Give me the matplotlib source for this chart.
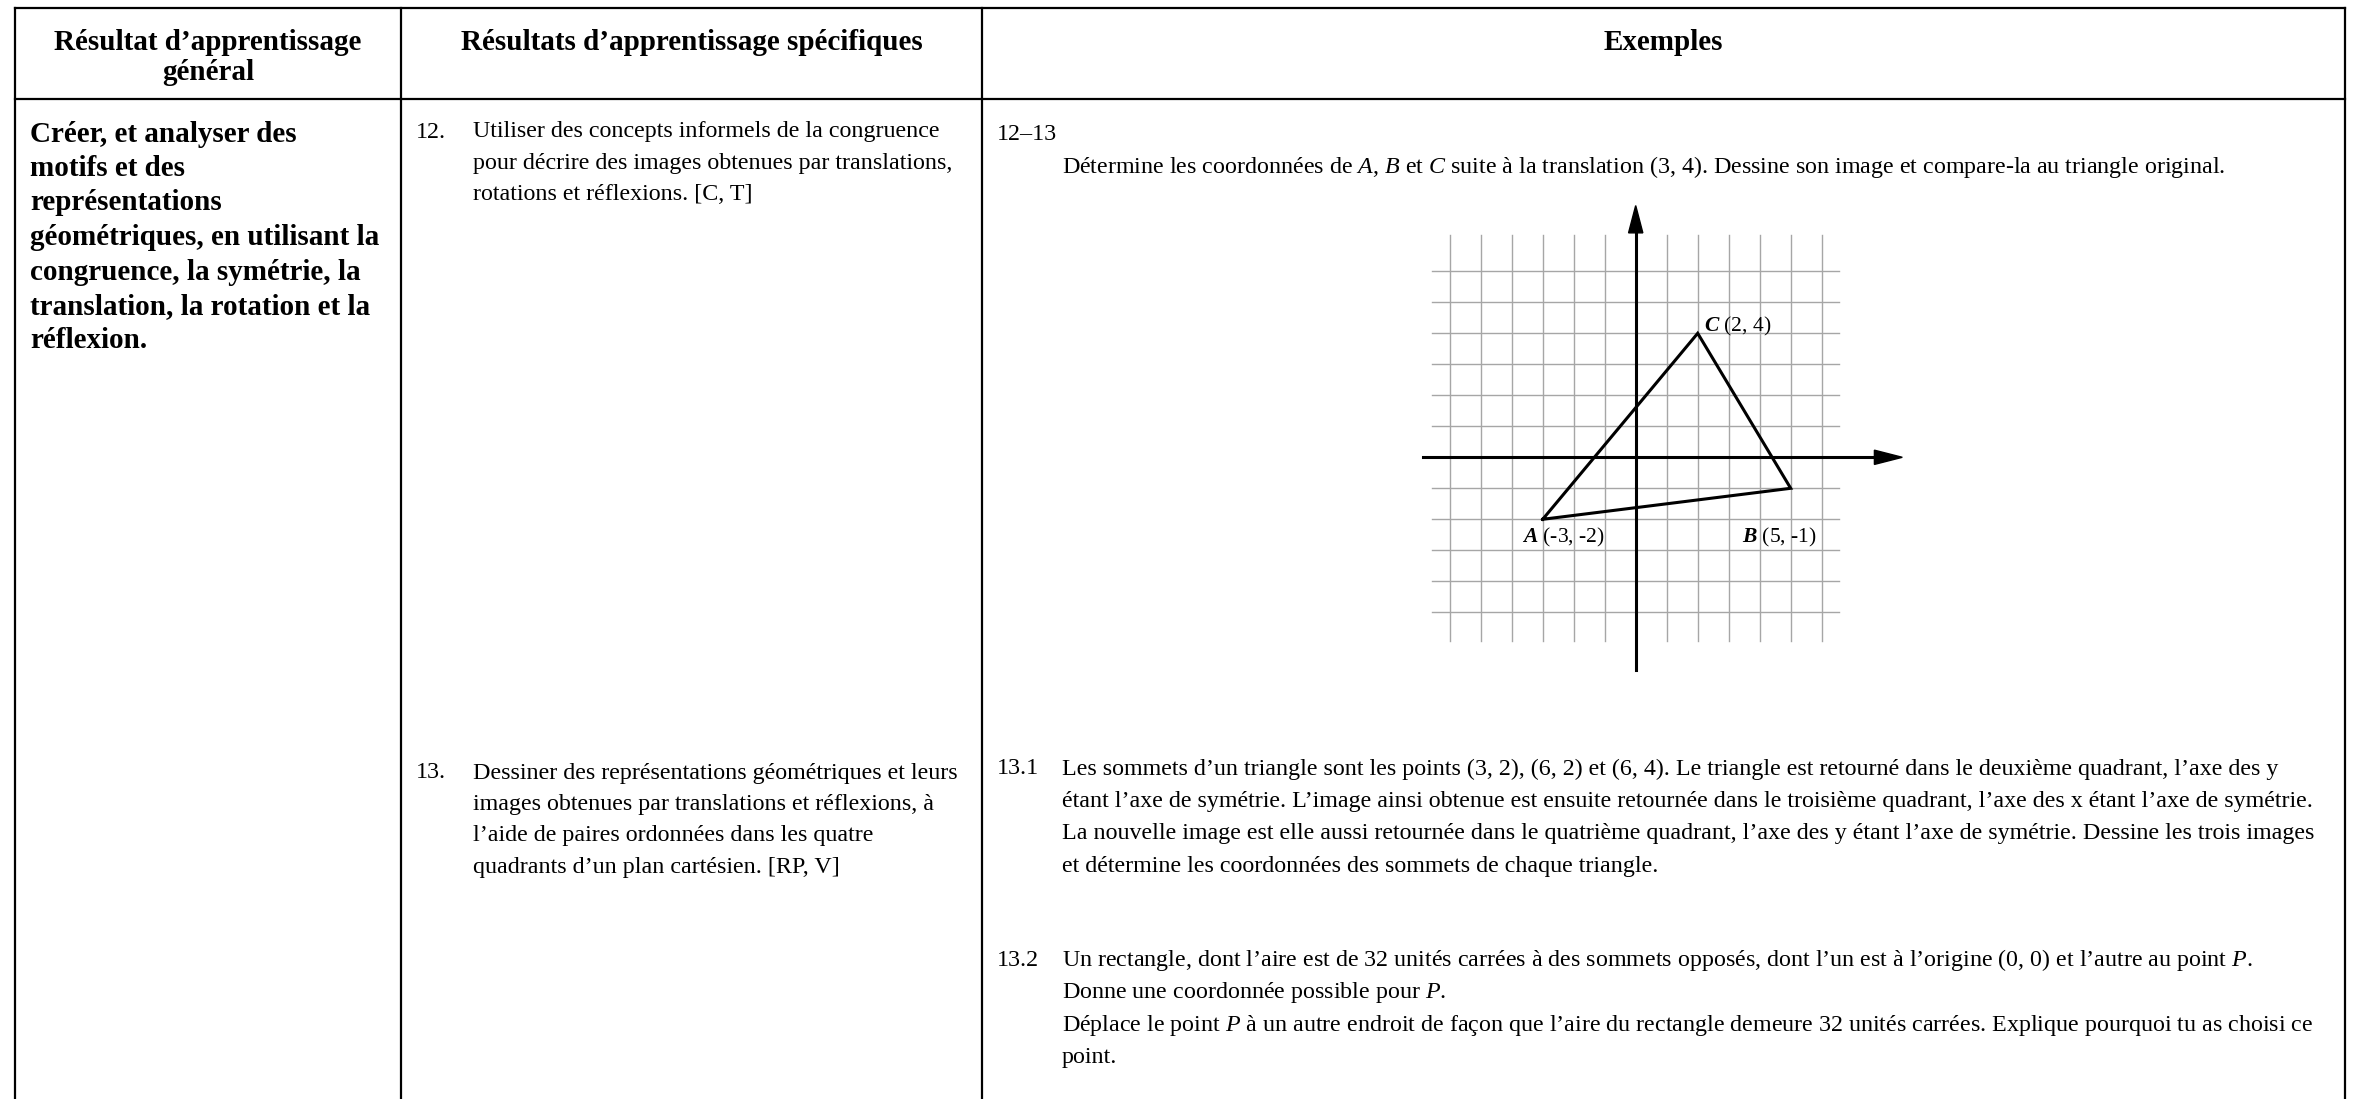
import matplotlib
matplotlib.use("Agg")
import matplotlib.pyplot as plt

# ==========================================
# 1. Contenu du tableau (texte) et données du graphique
# ==========================================
header_general = ["Résultat d’apprentissage", "général"]
header_specific = ["Résultats d’apprentissage spécifiques"]
header_examples = ["Exemples"]

general_lines = [
    "Créer, et analyser des",
    "motifs et des",
    "représentations",
    "géométriques, en utilisant la",
    "congruence, la symétrie, la",
    "translation, la rotation et la",
    "réflexion.",
]

spec_12 = [
    "Utiliser des concepts informels de la congruence",
    "pour décrire des images obtenues par translations,",
    "rotations et réflexions. [C, T]",
]
spec_13 = [
    "Dessiner des représentations géométriques et leurs",
    "images obtenues par translations et réflexions, à",
    "l’aide de paires ordonnées dans les quatre",
    "quadrants d’un plan cartésien. [RP, V]",
]

ex_12_13 = ["Détermine les coordonnées de $A$, $B$ et $C$ suite à la translation (3, 4). "
            "Dessine son image et compare-la au triangle original."]
ex_13_1 = [
    "Les sommets d’un triangle sont les points (3, 2), (6, 2) et (6, 4). Le triangle est retourné "
    "dans le deuxième quadrant, l’axe des y",
    "étant l’axe de symétrie. L’image ainsi obtenue est ensuite retournée dans le troisième quadrant, "
    "l’axe des x étant l’axe de symétrie.",
    "La nouvelle image est elle aussi retournée dans le quatrième quadrant, l’axe des y étant l’axe "
    "de symétrie. Dessine les trois images",
    "et détermine les coordonnées des sommets de chaque triangle.",
]
ex_13_2 = [
    "Un rectangle, dont l’aire est de 32 unités carrées à des sommets opposés, dont l’un est à "
    "l’origine (0, 0) et l’autre au point $P$.",
    "Donne une coordonnée possible pour $P$.",
    "Déplace le point $P$ à un autre endroit de façon que l’aire du rectangle demeure 32 unités "
    "carrées. Explique pourquoi tu as choisi ce",
    "point.",
]

# triangle ABC
tri_names = ["A", "B", "C"]
tri_x = [-3, 5, 2]
tri_y = [-2, -1, 4]
tri_labels = ["(-3, -2)", "(5, -1)", "(2, 4)"]
label_x = [-3.68, 3.42, 2.2]
label_y = [-2.6, -2.6, 4.23]

grid_x = list(range(-6, 7))
grid_y = list(range(-5, 7))

# ==========================================
# 2. Figure setup
# ==========================================
W, H = 2355, 1099
plt.rcParams['font.family'] = ['Liberation Serif', 'DejaVu Serif']
plt.rcParams['mathtext.fontset'] = 'custom'
plt.rcParams['mathtext.rm'] = 'Liberation Serif'
plt.rcParams['mathtext.it'] = 'Liberation Serif:italic'
plt.rcParams['mathtext.bf'] = 'Liberation Serif:italic:bold'

fig = plt.figure(figsize=(W / 100, H / 100), dpi=100)
fig.patch.set_facecolor('white')

ax = fig.add_axes([0, 0, 1, 1])
ax.set_xlim(0, W)
ax.set_ylim(H, 0)
ax.axis('off')

# table lines (pixels)
X_LEFT, X_C1, X_C2, X_RIGHT = 15, 401, 982, 2345
Y_TOP, Y_HEAD = 7.5, 99.3
lw_tab = 1.6
ax.plot([X_LEFT, X_RIGHT], [Y_TOP, Y_TOP], color='black', lw=lw_tab, solid_capstyle='projecting')
ax.plot([X_LEFT, X_RIGHT], [Y_HEAD, Y_HEAD], color='black', lw=lw_tab)
for xv in [X_LEFT, X_C1, X_C2, X_RIGHT]:
    ax.plot([xv, xv], [Y_TOP, H + 5], color='black', lw=lw_tab, solid_capstyle='projecting')

HEAD_FS = 21
BODY_FS = 17.3
DY = 3


def put_lines(lines, x, y0, step, **kw):
    for i, s in enumerate(lines):
        ax.text(x, y0 + DY + i * step, s, va='center', **kw)


# headers
put_lines(header_general, (X_LEFT + X_C1) / 2, 40, 30, ha='center', fontsize=HEAD_FS, fontweight='bold')
put_lines(header_specific, (X_C1 + X_C2) / 2, 40, 30, ha='center', fontsize=HEAD_FS, fontweight='bold')
put_lines(header_examples, (X_C2 + X_RIGHT) / 2, 40, 30, ha='center', fontsize=HEAD_FS, fontweight='bold')

# column 1
put_lines(general_lines, 30, 131, 34.5, ha='left', fontsize=HEAD_FS, fontweight='bold')

# column 2
put_lines(["12."], 416, 129, 31.5, ha='left', fontsize=BODY_FS)
put_lines(spec_12, 473, 129, 31.5, ha='left', fontsize=BODY_FS)
put_lines(["13."], 416, 770, 31.5, ha='left', fontsize=BODY_FS)
put_lines(spec_13, 473, 770, 31.5, ha='left', fontsize=BODY_FS)

# column 3
put_lines(["12–13"], 997, 131, 32.5, ha='left', fontsize=BODY_FS)
put_lines(ex_12_13, 1062, 164, 32.5, ha='left', fontsize=BODY_FS)
put_lines(["13.1"], 997, 766, 32.5, ha='left', fontsize=BODY_FS)
put_lines(ex_13_1, 1062, 766, 32.5, ha='left', fontsize=BODY_FS)
put_lines(["13.2"], 997, 957, 32.5, ha='left', fontsize=BODY_FS)
put_lines(ex_13_2, 1062, 957, 32.5, ha='left', fontsize=BODY_FS)

# ==========================================
# 3. Coordinate grid with the triangle
# ==========================================
UNIT = 31.0
ORIGIN = (1635.7, 457.3)
xmin, xmax, ymin, ymax = -7.0, 9.0, -7.0, 8.5
left_px = ORIGIN[0] + xmin * UNIT
top_px = ORIGIN[1] - ymax * UNIT
gax = fig.add_axes([left_px / W, 1 - (top_px + (ymax - ymin) * UNIT) / H,
                    (xmax - xmin) * UNIT / W, (ymax - ymin) * UNIT / H])
gax.set_xlim(xmin, xmax)
gax.set_ylim(ymin, ymax)
gax.axis('off')
gax.patch.set_alpha(0)

grid_col = '#a6a6a6'
for gx in grid_x:
    if gx != 0:
        gax.plot([gx, gx], [-5.94, 7.18], color=grid_col, lw=1.0, zorder=1)
for gy in grid_y:
    if gy != 0:
        gax.plot([-6.58, 6.57], [gy, gy], color=grid_col, lw=1.0, zorder=1)

# axes with arrowheads
gax.plot([-6.85, 7.8], [0, 0], color='black', lw=2.2, zorder=3)
gax.plot([0, 0], [-6.85, 7.3], color='black', lw=2.2, zorder=3)
gax.arrow(7.6, 0, 1.0, 0, width=0.0, head_width=0.46, head_length=0.9,
          length_includes_head=True, color='black', zorder=4)
gax.arrow(0, 7.2, 0, 0.92, width=0.0, head_width=0.46, head_length=0.88,
          length_includes_head=True, color='black', zorder=4)

# triangle
gax.plot(tri_x + [tri_x[0]], tri_y + [tri_y[0]], color='black', lw=2.2,
         solid_joinstyle='miter', zorder=5)

for name, lab, lx, ly in zip(tri_names, tri_labels, label_x, label_y):
    gax.text(lx, ly, r"$\mathbf{" + name + "}$ " + lab, va='center', ha='left',
             fontsize=15.5, zorder=6)

plt.savefig('out.png', dpi=100, facecolor='white')
